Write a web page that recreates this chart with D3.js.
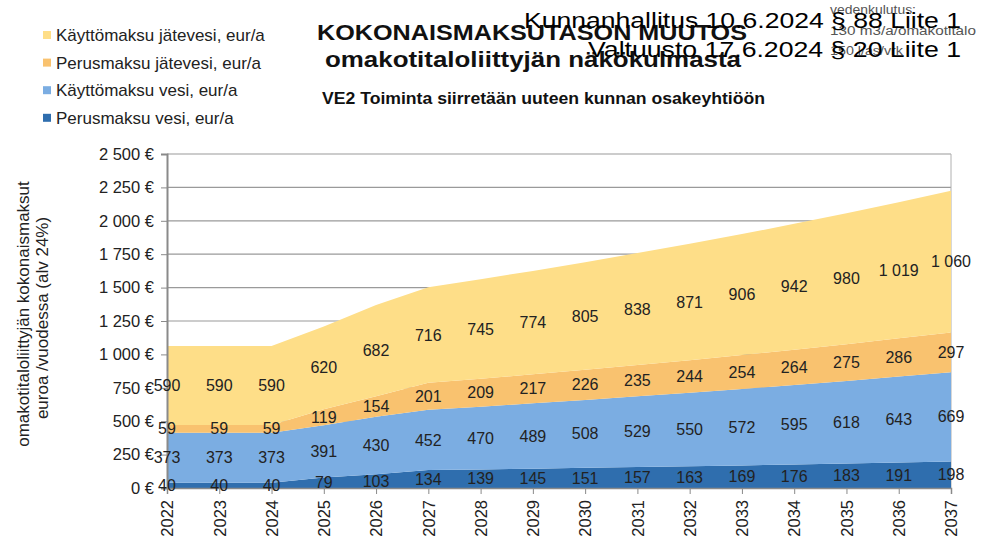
<!DOCTYPE html>
<html>
<head>
<meta charset="utf-8">
<script src="https://cdn.jsdelivr.net/npm/d3@7"></script>
<style>
  body { margin: 0; background: #fff; }
  svg { display: block; font-family: "Liberation Sans", Arial, sans-serif; }
</style>
</head>
<body>
<script>
// Years on the x axis.
const years = [2022, 2023, 2024, 2025, 2026, 2027, 2028, 2029, 2030,
               2031, 2032, 2033, 2034, 2035, 2036, 2037];

// Series values, eur/a (bottom to top of the stack).
const perusVesi = [40, 40, 40, 79, 103, 134, 139, 145, 151, 157, 163, 169, 176, 183, 191, 198];
const kayttoVesi = [373, 373, 373, 391, 430, 452, 470, 489, 508, 529, 550, 572, 595, 618, 643, 669];
const perusJatevesi = [59, 59, 59, 119, 154, 201, 209, 217, 226, 235, 244, 254, 264, 275, 286, 297];
const kayttoJatevesi = [590, 590, 590, 620, 682, 716, 745, 774, 805, 838, 871, 906, 942, 980, 1019, 1060];

// Series names in stacking order.
const seriesNames = ["Perusmaksu vesi, eur/a", "Käyttömaksu vesi, eur/a",
                     "Perusmaksu jätevesi, eur/a", "Käyttömaksu jätevesi, eur/a"];

// Y axis ticks.
const yTicks = [0, 250, 500, 750, 1000, 1250, 1500, 1750, 2000, 2250, 2500];

const colors = ["#2f6eae", "#7badE2", "#f9c26f", "#fede88"];

// Plot area.
const X0 = 167, X1 = 951, Y0 = 488, Y1 = 154;

const svg = d3.select("body").append("svg")
    .attr("width", 991)
    .attr("height", 541);

// Build table for the stack.
const table = years.map((y, i) => ({
    year: y,
    s0: perusVesi[i],
    s1: kayttoVesi[i],
    s2: perusJatevesi[i],
    s3: kayttoJatevesi[i]
}));
const keys = ["s0", "s1", "s2", "s3"];
const stacked = d3.stack().keys(keys)(table);

const x = d3.scalePoint().domain(years).range([X0, X1]);
const y = d3.scaleLinear().domain([0, 2500]).range([Y0, Y1]);

const fmt = d3.formatLocale({ decimal: ",", thousands: "\u00a0", grouping: [3], currency: ["", " €"] }).format(",");

// Text helper: the reference text is a bit wider than the font, so fix its length.
const addText = function (x0, y0, size, str, len, opts) {
    const t = svg.append("text")
        .attr("x", x0).attr("y", y0)
        .attr("font-size", size)
        .attr("fill", opts.fill || "#111")
        .attr("font-weight", opts.bold ? "bold" : "normal")
        .attr("text-anchor", opts.anchor || "start")
        .text(str);
    if (len) t.attr("textLength", len).attr("lengthAdjust", "spacingAndGlyphs");
    return t;
};

// Gridlines.
svg.append("g").selectAll("line")
    .data(yTicks)
    .join("line")
    .attr("x1", X0).attr("x2", X1)
    .attr("y1", d => y(d)).attr("y2", d => y(d))
    .attr("stroke", "#9a9a9a")
    .attr("stroke-width", 1.2);

// Right border.
svg.append("line")
    .attr("x1", X1).attr("x2", X1)
    .attr("y1", Y1).attr("y2", Y0)
    .attr("stroke", "#b0b0b0");

// Areas.
const area = d3.area()
    .x(d => x(d.data.year))
    .y0(d => y(d[0]))
    .y1(d => y(d[1]));

svg.append("g").selectAll("path")
    .data(stacked)
    .join("path")
    .attr("fill", (d, i) => colors[i])
    .attr("d", area);

// Y axis.
const yAxis = svg.append("g")
    .attr("transform", `translate(${X0},0)`)
    .call(d3.axisLeft(y).tickValues(yTicks).tickSize(6).tickPadding(7)
        .tickFormat(d => fmt(d) + " €"));
yAxis.select(".domain").attr("stroke", "#8a8a8a").attr("stroke-width", 2);
yAxis.selectAll(".tick line").attr("stroke", "#8a8a8a");
yAxis.selectAll("text")
    .attr("font-size", 16.5)
    .attr("fill", "#222")
    .attr("font-family", "Liberation Sans, Arial, sans-serif");

// X axis.
const xAxis = svg.append("g")
    .attr("transform", `translate(0,${Y0})`)
    .call(d3.axisBottom(x).tickSize(6).tickPadding(0));
xAxis.select(".domain").attr("stroke", "#8a8a8a").attr("stroke-width", 1.5);
xAxis.selectAll(".tick line").attr("stroke", "#8a8a8a");
xAxis.selectAll("text")
    .attr("font-size", 16.5)
    .attr("fill", "#222")
    .attr("font-family", "Liberation Sans, Arial, sans-serif")
    .attr("transform", "rotate(-90)")
    .attr("text-anchor", "end")
    .attr("x", -12)
    .attr("y", 0)
    .attr("dy", "0.35em");

// Data labels at the middle of each band.
stacked.forEach(s => {
    svg.append("g").selectAll("text")
        .data(s)
        .join("text")
        .attr("x", d => x(d.data.year))
        .attr("y", d => y((d[0] + d[1]) / 2))
        .attr("dy", "0.35em")
        .attr("text-anchor", "middle")
        .attr("font-size", 16)
        .attr("fill", "#222")
        .text(d => fmt(d[1] - d[0]));
});

// Y axis title.
const yTitle = svg.append("text")
    .attr("transform", "translate(0,314) rotate(-90)")
    .attr("text-anchor", "middle")
    .attr("font-size", 17)
    .attr("fill", "#222");
yTitle.append("tspan").attr("x", 0).attr("y", 29).text("omakotitaloliittyjän kokonaismaksut");
yTitle.append("tspan").attr("x", -4).attr("y", 48).text("euroa /vuodessa (alv 24%)");

// Legend (top item is the top of the stack).
const legend = svg.append("g").selectAll("g")
    .data(d3.range(4).reverse())
    .join("g")
    .attr("transform", (d, i) => `translate(43,${35 + i * 27.6})`);
legend.append("rect")
    .attr("x", 0).attr("y", -4)
    .attr("width", 8).attr("height", 8)
    .attr("fill", d => colors[d]);
legend.append("text")
    .attr("x", 13)
    .attr("dy", "0.36em")
    .attr("font-size", 17)
    .attr("fill", "#222")
    .text(d => seriesNames[d]);

// Titles.
addText(532, 40, 21.5, "KOKONAISMAKSUTASON MUUTOS", 430, { bold: true, anchor: "middle" });
addText(533, 67, 22, "omakotitaloliittyjän näkökulmasta", 416, { bold: true, anchor: "middle" });
addText(322, 104, 16, "VE2 Toiminta siirretään uuteen kunnan osakeyhtiöön", 443, { bold: true });

// Small note about water use.
addText(830, 14, 12, "vedenkulutus:", 86, { fill: "#555" });
addText(830, 35, 12, "130 m3/a/omakotitalo", 146, { fill: "#555" });
addText(830, 55, 12, "150 l/as/vrk", 73, { fill: "#555" });

// Stamp text over the top right.
addText(961, 28, 22, "Kunnanhallitus 10.6.2024 § 88 Liite 1", 437, { fill: "#000", anchor: "end" });
addText(961, 57, 22, "Valtuusto 17.6.2024 § 20 Liite 1", 373, { fill: "#000", anchor: "end" });
</script>
</body>
</html>
